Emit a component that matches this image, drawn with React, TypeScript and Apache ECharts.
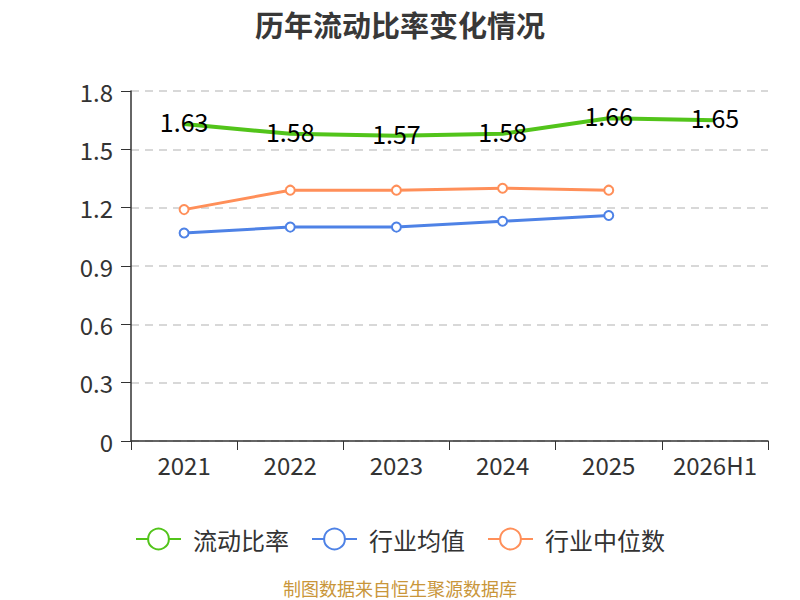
import React, { useEffect, useRef } from "react";
import * as echarts from "echarts";

const categories = ["2021", "2022", "2023", "2024", "2025", "2026H1"];
const currentRatio = [1.63, 1.58, 1.57, 1.58, 1.66, 1.65];
const industryAvg = [1.07, 1.1, 1.1, 1.13, 1.16];
const industryMedian = [1.19, 1.29, 1.29, 1.3, 1.29];
const seriesNames = ["流动比率", "行业均值", "行业中位数"];
const titleText = "历年流动比率变化情况";
const sourceText = "制图数据来自恒生聚源数据库";

const FONT = "'Noto Sans CJK SC', 'Noto Sans', sans-serif";

export default function App() {
  const ref = useRef<HTMLDivElement>(null);
  useEffect(() => {
    document.body.style.margin = "0";
    if (!ref.current) return;
    const chart = echarts.init(ref.current, undefined, { renderer: "svg" });
    chart.setOption({
      animation: false,
      backgroundColor: "#fff",
      textStyle: { fontFamily: FONT },
      title: [
        {
          text: titleText,
          left: "center",
          top: 4,
          textStyle: { fontSize: 29, fontWeight: "bold", color: "#383838", fontFamily: FONT },
        },
        {
          text: sourceText,
          left: "center",
          top: 574,
          textStyle: { fontSize: 18, fontWeight: "normal", color: "#c9963a", fontFamily: FONT },
        },
      ],
      legend: {
        data: seriesNames,
        left: "center",
        top: 522,
        itemWidth: 45,
        itemHeight: 26,
        itemGap: 22,
        textStyle: { fontSize: 24, color: "#333", fontFamily: FONT, padding: [0, 0, 0, 7] },
      },
      grid: { left: 131, right: 32, top: 91, bottom: 159 },
      xAxis: {
        type: "category",
        data: categories,
        boundaryGap: true,
        axisLine: { lineStyle: { color: "#333", width: 1.5 } },
        axisTick: { show: true, interval: 0, length: 9, alignWithLabel: false, lineStyle: { color: "#333" } },
        axisLabel: { interval: 0, fontSize: 24, color: "#333", margin: 11, fontFamily: FONT },
      },
      yAxis: {
        type: "value",
        min: 0,
        max: 1.8,
        interval: 0.3,
        axisLine: { show: true, lineStyle: { color: "#333", width: 1.5 } },
        axisTick: { show: true, length: 10, lineStyle: { color: "#333" } },
        axisLabel: { fontSize: 24, color: "#333", margin: 18, fontFamily: FONT },
        splitLine: { show: true, lineStyle: { color: "#ccc", type: [8, 6], width: 1.5 } },
      },
      series: [
        {
          name: seriesNames[0],
          type: "line",
          data: currentRatio,
          symbol: "emptyCircle",
          symbolSize: 0,
          color: "#52c41a",
          lineStyle: { width: 4, color: "#52c41a" },
          itemStyle: { color: "#52c41a", borderWidth: 2 },
          label: {
            show: true,
            position: "inside",
            offset: [0, -3],
            fontSize: 25,
            color: "#000",
            fontFamily: FONT,
          },
          z: 3,
        },
        {
          name: seriesNames[1],
          type: "line",
          data: industryAvg,
          symbol: "emptyCircle",
          symbolSize: 9,
          color: "#4e82e6",
          lineStyle: { width: 3, color: "#4e82e6" },
          itemStyle: { color: "#4e82e6", borderWidth: 2 },
          label: { show: false },
        },
        {
          name: seriesNames[2],
          type: "line",
          data: industryMedian,
          symbol: "emptyCircle",
          symbolSize: 9,
          color: "#ff8f59",
          lineStyle: { width: 3, color: "#ff8f59" },
          itemStyle: { color: "#ff8f59", borderWidth: 2 },
          label: { show: false },
        },
      ],
    });
    return () => chart.dispose();
  }, []);
  return (
    <div
      ref={ref}
      style={{ position: "absolute", left: 0, top: 0, width: 800, height: 600 }}
    />
  );
}
